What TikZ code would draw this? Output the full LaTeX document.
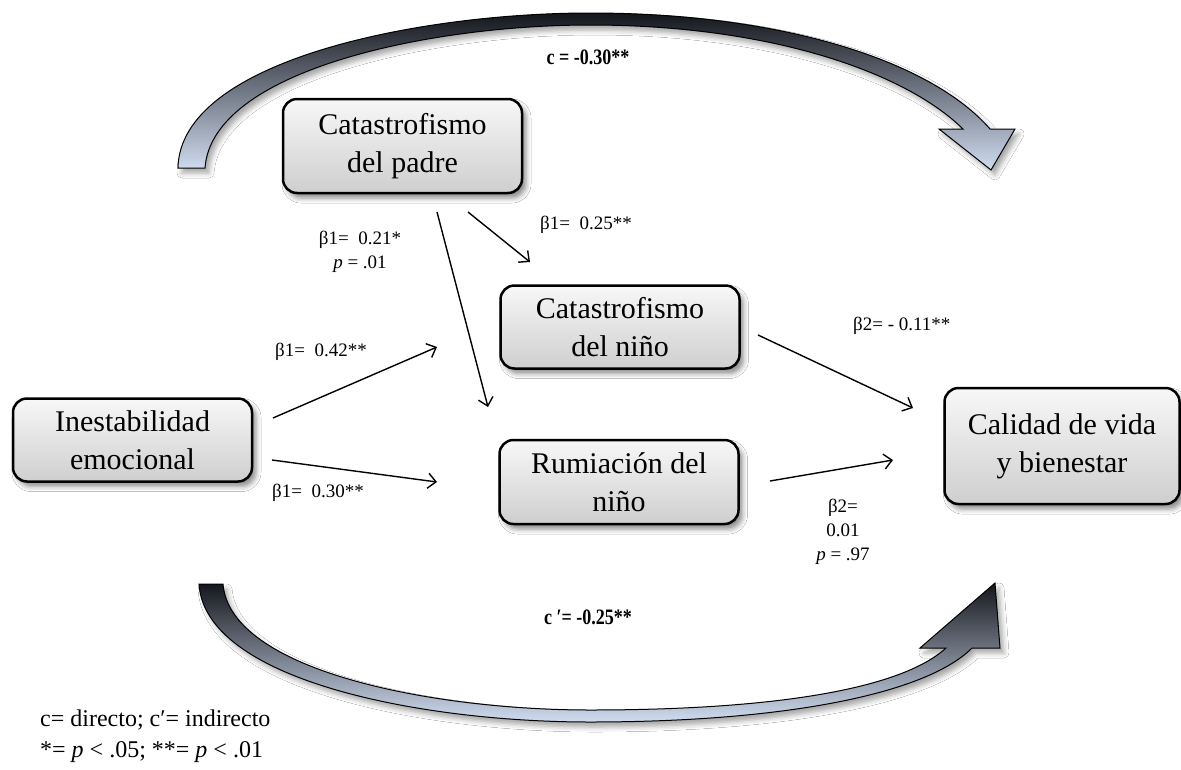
\documentclass[tikz,border=0pt]{standalone}
\usepackage{fontspec}
\usepackage{graphicx}
\setmainfont{Liberation Serif}
\usetikzlibrary{arrows.meta,shadows.blur}
\definecolor{arrlight}{RGB}{208,220,240}
\definecolor{arrdark}{RGB}{20,22,28}
\tikzset{
  box/.style={draw=black, line width=2.5pt, rounded corners=14pt, top color=gray!6, bottom color=gray!38,
    minimum width=239pt, minimum height=83pt, align=center, inner sep=2pt,
    font=\fontsize{30}{38}\selectfont,
    blur shadow={shadow xshift=4pt, shadow yshift=-5pt, shadow blur radius=5pt, shadow opacity=45}},
  conn/.style={line width=1.4pt, -{Straight Barb[length=8pt,width=15pt]}},
  lbl/.style={font=\fontsize{19}{24}\selectfont, align=center, inner sep=0pt},
  blbl/.style={font=\fontsize{22}{26}\selectfont\bfseries, inner sep=0pt},
  legend/.style={font=\fontsize{24}{30}\selectfont, inner sep=0pt, anchor=west},
  bigarrow/.style={draw=black, line width=1pt, line join=miter,
    blur shadow={shadow xshift=4pt, shadow yshift=-5pt, shadow blur radius=5pt, shadow opacity=35}}
}
\begin{document}
\begin{tikzpicture}[x=1pt,y=-1pt]
\useasboundingbox (0,0) rectangle (1181,769);
\fill[white] (0,0) rectangle (1181,769);

% big curved arrows
\path[bigarrow, top color=arrdark, bottom color=arrlight]
  (178,168) .. controls (180,60) and (420,13) .. (590,13)
  .. controls (780,13) and (930,60) .. (990,129)
  -- (1015,129) -- (991,170) -- (939,129) -- (963,129)
  .. controls (905,72) and (770,25) .. (590,25)
  .. controls (430,25) and (212,70) .. (205,168) -- cycle;
\path[bigarrow, top color=arrdark, bottom color=arrlight]
  (199,584) .. controls (205,680) and (420,722) .. (590,722)
  .. controls (780,722) and (925,695) .. (972,648)
  -- (1000,648) -- (995,583) -- (920,648) -- (946,648)
  .. controls (900,690) and (770,710) .. (590,710)
  .. controls (430,710) and (230,670) .. (223,584) -- cycle;

% boxes
\node[box, minimum height=94pt] (padre) at (402.5,146) {Catastrofismo\\del padre};
\node[box] (nino) at (620,327) {Catastrofismo\\del niño};
\node[box, minimum height=84pt] (rum) at (619,482) {Rumiación del\\niño};
\node[box] (ine) at (132.5,440) {Inestabilidad\\emocional};
\node[box, minimum width=235pt, minimum height=116pt] (cal) at (1062,446) {Calidad de vida\\y bienestar};

% connector ends
\coordinate (a1s) at (273,418); \coordinate (a1e) at (437,347);
\coordinate (a2s) at (272,460); \coordinate (a2e) at (437,482);
\coordinate (a3s) at (437,212); \coordinate (a3e) at (488,407);
\coordinate (a4s) at (468,212); \coordinate (a4e) at (530,262);
\coordinate (a5s) at (758,335); \coordinate (a5e) at (913,408);
\coordinate (a6s) at (770,481); \coordinate (a6e) at (893,460);
\draw[conn] (a1s) -- (a1e);
\draw[conn] (a2s) -- (a2e);
\draw[conn] (a3s) -- (a3e);
\draw[conn] (a4s) -- (a4e);
\draw[conn] (a5s) -- (a5e);
\draw[conn] (a6s) -- (a6e);

% labels
\node[lbl] (l1) at (360,252) {β1=\enspace 0.21*\\\textit{p} = .01};
\node[lbl, anchor=west] (l2) at (540,225) {β1=\enspace 0.25**};
\node[lbl, anchor=west] (l3) at (275,352) {β1=\enspace 0.42**};
\node[lbl, anchor=west] (l4) at (272,493) {β1=\enspace 0.30**};
\node[lbl, anchor=west] (l5) at (853,326) {β2= - 0.11**};
\node[lbl] (l6) at (843,532) {β2=\\0.01\\\textit{p} = .97};
\node[blbl] (c1) at (588,57) {\scalebox{0.82}[1]{c = -0.30**}};
\node[blbl] (c2) at (588,617) {\scalebox{0.82}[1]{c ′= -0.25**}};

% legend
\node[legend] (lg1) at (40,720) {c= directo; c′= indirecto};
\node[legend] (lg2) at (40,752) {*= \textit{p} < .05; **= \textit{p} < .01};
\end{tikzpicture}
\end{document}
